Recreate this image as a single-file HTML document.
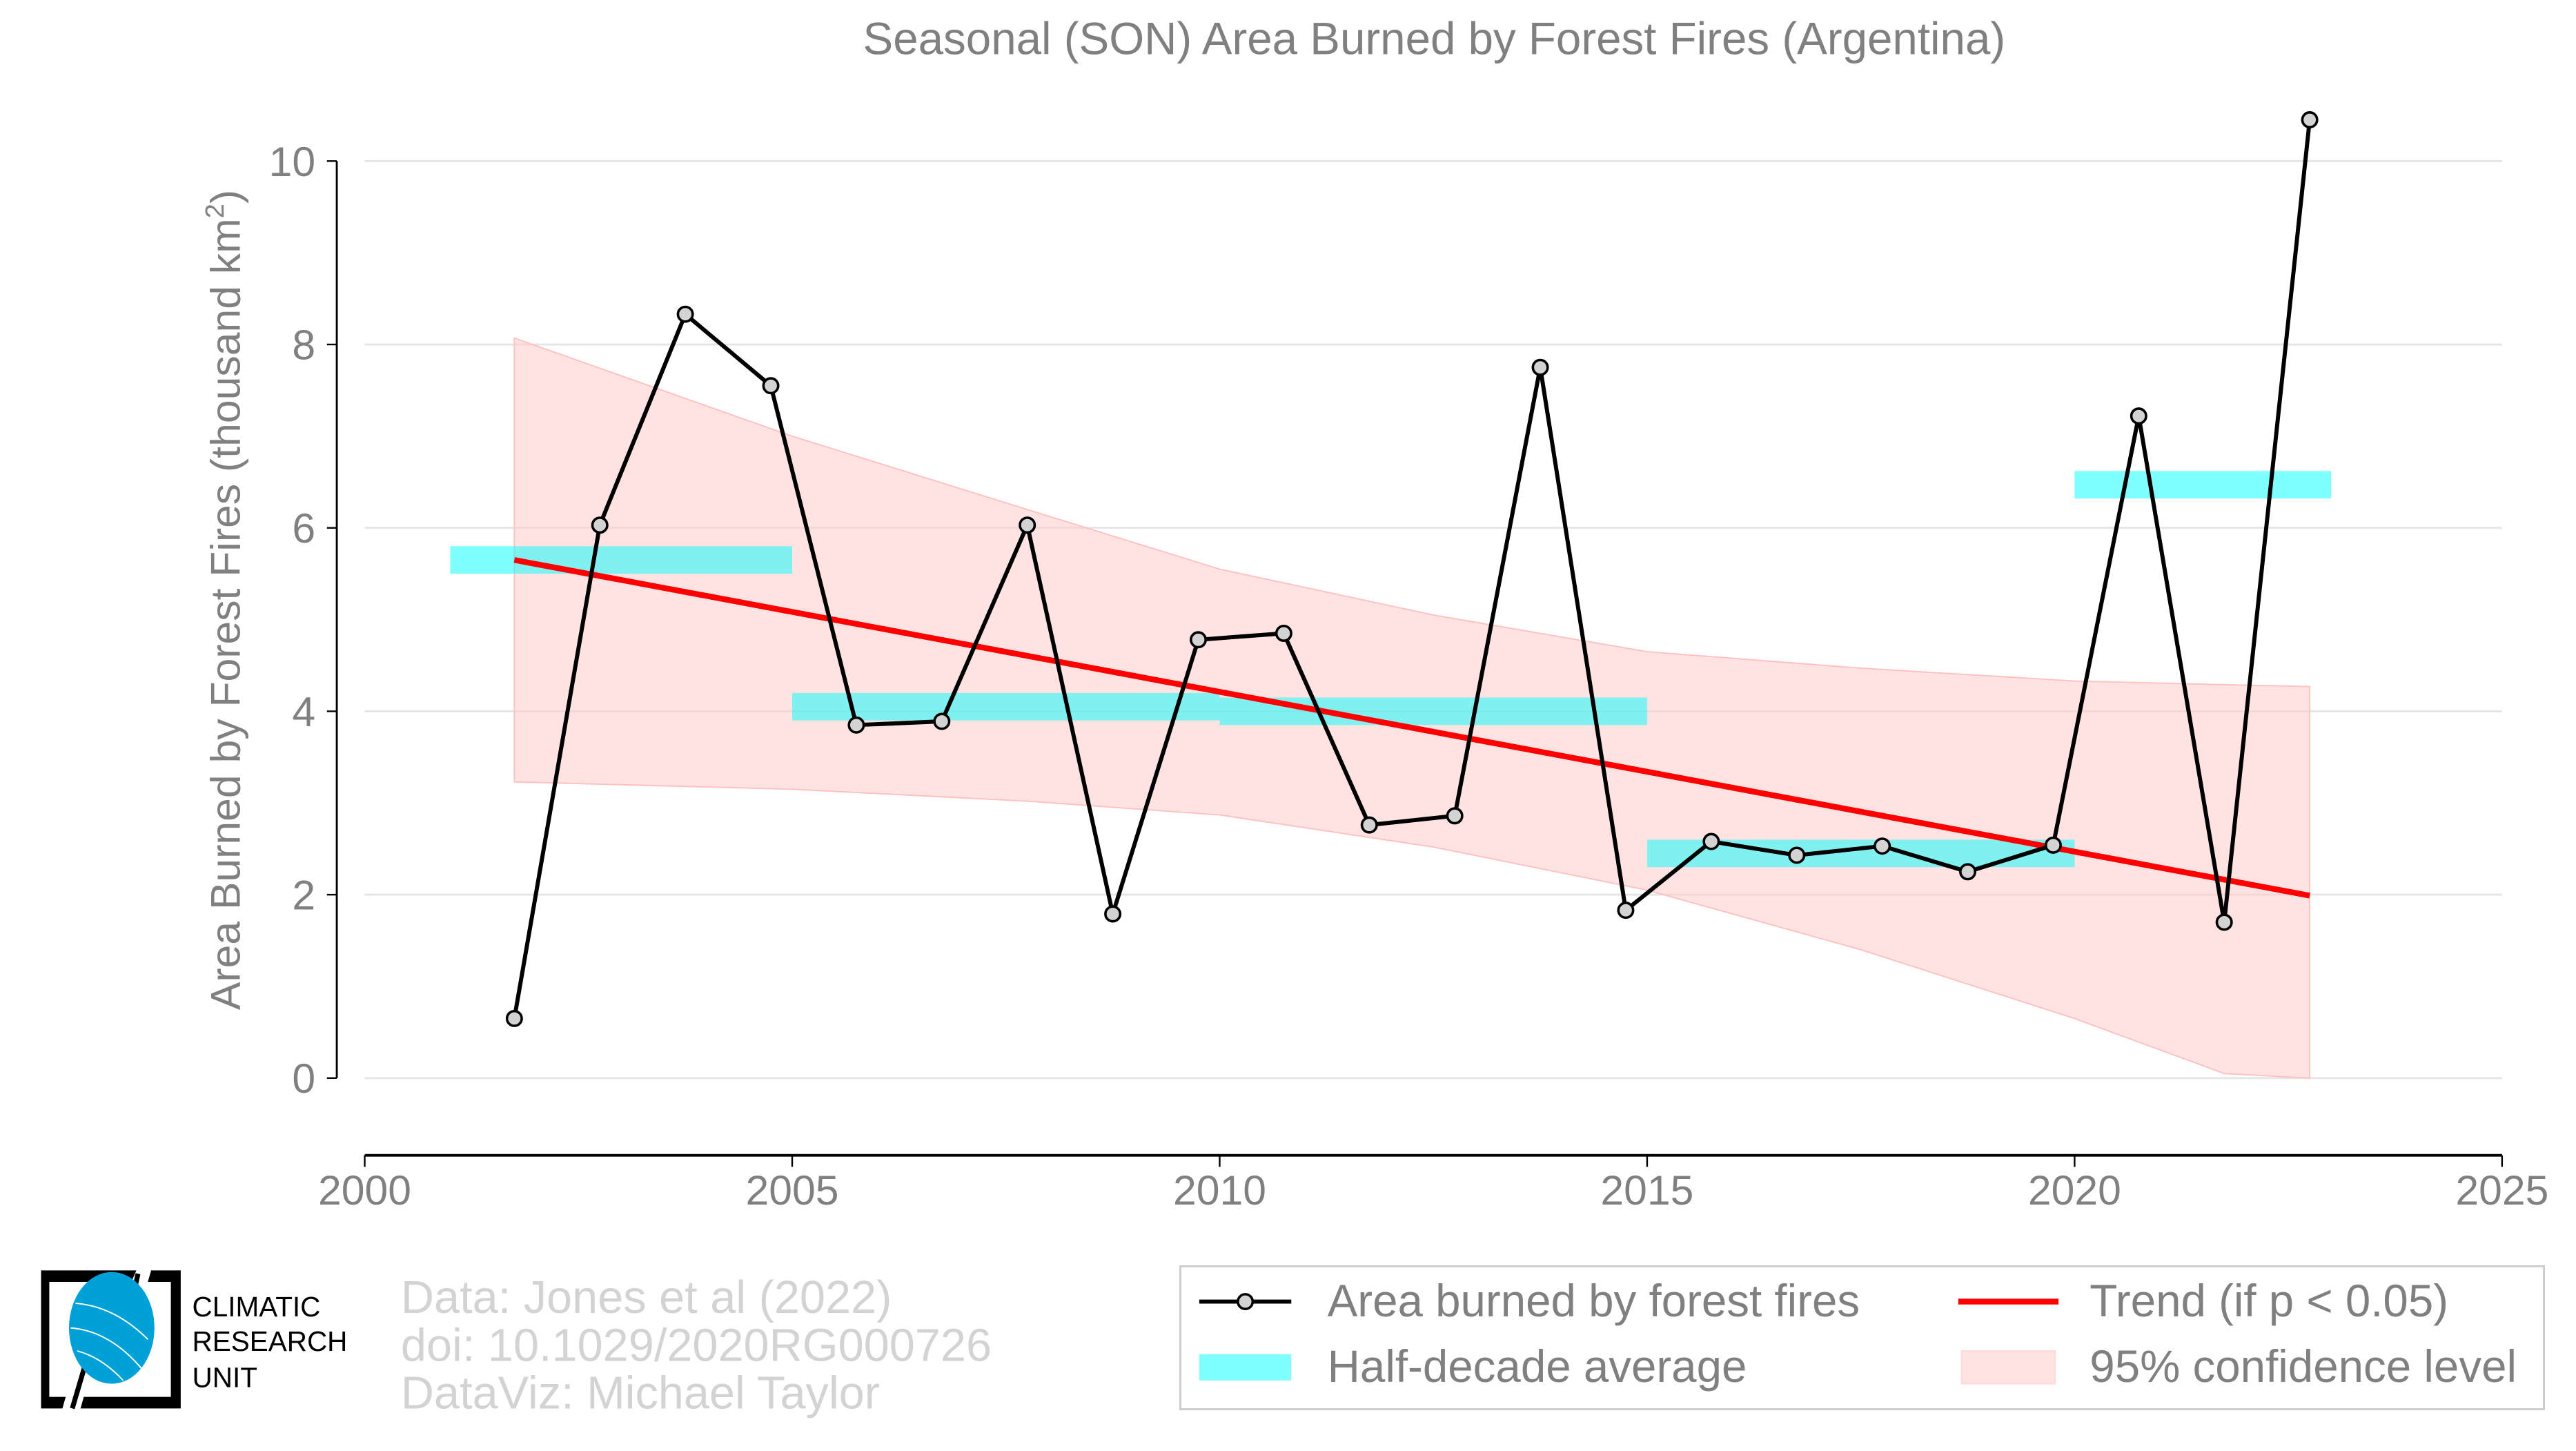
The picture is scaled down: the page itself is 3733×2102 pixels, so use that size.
<!DOCTYPE html>
<html><head><meta charset="utf-8"><style>html,body{margin:0;padding:0;background:#fff}svg{display:block;font-family:"Liberation Sans",sans-serif}</style></head>
<body>
<svg id="chart" width="3733" height="2102" viewBox="0 0 1568 882.9" xmlns="http://www.w3.org/2000/svg">
<text x="873" y="33" font-size="27.5" fill="#808080" text-anchor="middle">Seasonal (SON) Area Burned by Forest Fires (Argentina)</text>
<g id="grid"></g>
<g id="ci"></g>
<g id="bars"></g>
<g id="trend"></g>
<g id="series"></g>
<g id="axes"></g>
<text transform="translate(146,365) rotate(-90)" font-size="25.5" fill="#808080" text-anchor="middle">Area Burned by Forest Fires (thousand km<tspan font-size="16" dy="-10">2</tspan><tspan dy="10">)</tspan></text>

<g>
<rect x="718.5" y="770.5" width="830" height="87" fill="#fff" stroke="#ccc" stroke-width="1.2"/>
<g>
<line x1="730" y1="792" x2="786" y2="792" stroke="#000" stroke-width="2.5"/>
<circle cx="758" cy="792" r="4.5" fill="#d3d3d3" stroke="#000" stroke-width="1.5"/>
<text x="808" y="801" font-size="27.5" fill="#808080">Area burned by forest fires</text></g>
<g>
<rect x="730" y="824" width="56" height="16" fill="#00ffff" opacity="0.5"/>
<text x="808" y="841" font-size="27.5" fill="#808080">Half-decade average</text></g>
<g>
<line x1="1192" y1="792" x2="1253" y2="792" stroke="#ff0000" stroke-width="3.5"/>
<text x="1272" y="801" font-size="27.5" fill="#808080">Trend (if p &lt; 0.05)</text></g>
<g>
<rect x="1194" y="822" width="57" height="20" fill="#ffcccc" opacity="0.55" stroke="#ffbbbb" stroke-width="0.8"/>
<text x="1272" y="841" font-size="27.5" fill="#808080">95% confidence level</text></g>
</g>

<g font-size="28" fill="#d3d3d3">
<text x="244" y="799">Data: Jones et al (2022)</text>
<text x="244" y="828">doi: 10.1029/2020RG000726</text>
<text x="244" y="857">DataViz: Michael Taylor</text>
</g>
<g>
<path d="M25,773 H83 L80,780 H30 V850 H40 L38,857 H25 Z" fill="#000"/>
<path d="M110,773 V857 H49 L51,850 H104 V780 H90 L92,773 Z" fill="#000"/>
<path d="M84,775 L76,812 M52,830 L44,857" stroke="#000" stroke-width="3"/>
<ellipse cx="68" cy="808" rx="26" ry="34" fill="#00a0d8"/>
<path d="M46,793 Q70,795 90,815 M43,808 Q68,810 88,835 M47,822 Q62,826 75,840" stroke="#fff" stroke-width="0.8" fill="none"/>
<text x="117" y="801" font-size="17" fill="#000">CLIMATIC</text>
<text x="117" y="822" font-size="17" fill="#000">RESEARCH</text>
<text x="117" y="844" font-size="17" fill="#000">UNIT</text>
</g>
</svg>
<script>
const years=[2001.75,2002.75,2003.75,2004.75,2005.75,2006.75,2007.75,2008.75,2009.75,2010.75,2011.75,2012.75,2013.75,2014.75,2015.75,2016.75,2017.75,2018.75,2019.75,2020.75,2021.75,2022.75];
const values=[0.65,6.03,8.33,7.55,3.85,3.89,6.03,1.79,4.78,4.85,2.76,2.86,7.75,1.83,2.58,2.43,2.53,2.25,2.54,7.22,1.70,10.45];
const ciYears=[2001.75,2005,2007.75,2010,2012.5,2015,2017.5,2020,2021.75,2022.75];
const ciUpper=[8.07,7.0,6.2,5.55,5.05,4.65,4.47,4.33,4.29,4.27];
const ciLower=[3.23,3.15,3.02,2.87,2.52,2.05,1.4,0.65,0.05,0.0];
const trendYears=[2001.75,2022.75];
const trendValues=[5.65,1.99];
const barStart=[2001,2005,2010,2015,2020];
const barEnd=[2005,2010,2015,2020,2023];
const barValues=[5.65,4.05,4.0,2.45,6.47];
const yTicks=[0,2,4,6,8,10];
const xTicks=[2000,2005,2010,2015,2020,2025];
const NS='http://www.w3.org/2000/svg';
const X=v=>222+(v-2000)*(1523-222)/25;
const Y=v=>656-v*(656-98)/10;
function mk(tag,attrs,parent){const e=document.createElementNS(NS,tag);for(const k in attrs)e.setAttribute(k,attrs[k]);document.getElementById(parent).appendChild(e);return e;}
yTicks.forEach(t=>{const g=mk('line',{x1:222,x2:1523,y1:Y(t),y2:Y(t),stroke:'#e5e5e5','stroke-width':1.2},'grid');


const tk=mk('line',{x1:199,x2:205,y1:Y(t),y2:Y(t),stroke:'#000','stroke-width':1},'axes');


const tl=mk('text',{x:192,y:Y(t)+9,'font-size':25.5,fill:'#808080','text-anchor':'end'},'axes');tl.textContent=t;

});
const ya=mk('line',{x1:205,x2:205,y1:Y(10),y2:Y(0),stroke:'#000','stroke-width':1.2},'axes');


const xa=mk('line',{x1:222,x2:1523,y1:703,y2:703,stroke:'#000','stroke-width':1.6},'axes');


xTicks.forEach(t=>{const tk=mk('line',{x1:X(t),x2:X(t),y1:703,y2:710,stroke:'#000','stroke-width':1},'axes');


const tl=mk('text',{x:X(t),y:733,'font-size':25.5,fill:'#808080','text-anchor':'middle'},'axes');tl.textContent=t;

});
let d=ciYears.map((y,i)=>(i?'L':'M')+X(y)+','+Y(ciUpper[i])).join(' ');
for(let i=ciYears.length-1;i>=0;i--)d+=' L'+X(ciYears[i])+','+Y(ciLower[i]);
const band=mk('path',{d:d+' Z',fill:'#ffcccc','fill-opacity':0.55,stroke:'#ffc0c0','stroke-width':0.8},'ci');


barValues.forEach((v,i)=>{const r=mk('rect',{x:X(barStart[i]),y:Y(v+0.15),width:X(barEnd[i])-X(barStart[i]),height:Y(0)-Y(0.3),fill:'#00ffff','fill-opacity':0.5},'bars');

});
const tr=mk('line',{x1:X(trendYears[0]),y1:Y(trendValues[0]),x2:X(trendYears[1]),y2:Y(trendValues[1]),stroke:'#ff0000','stroke-width':3.5},'trend');


const ln=mk('polyline',{points:years.map((y,i)=>X(y)+','+Y(values[i])).join(' '),fill:'none',stroke:'#000','stroke-width':2.5,'stroke-linejoin':'round'},'series');


years.forEach((y,i)=>{const c=mk('circle',{cx:X(y),cy:Y(values[i]),r:4.5,fill:'#d3d3d3',stroke:'#000','stroke-width':1.5},'series');

});
</script>
</body></html>
